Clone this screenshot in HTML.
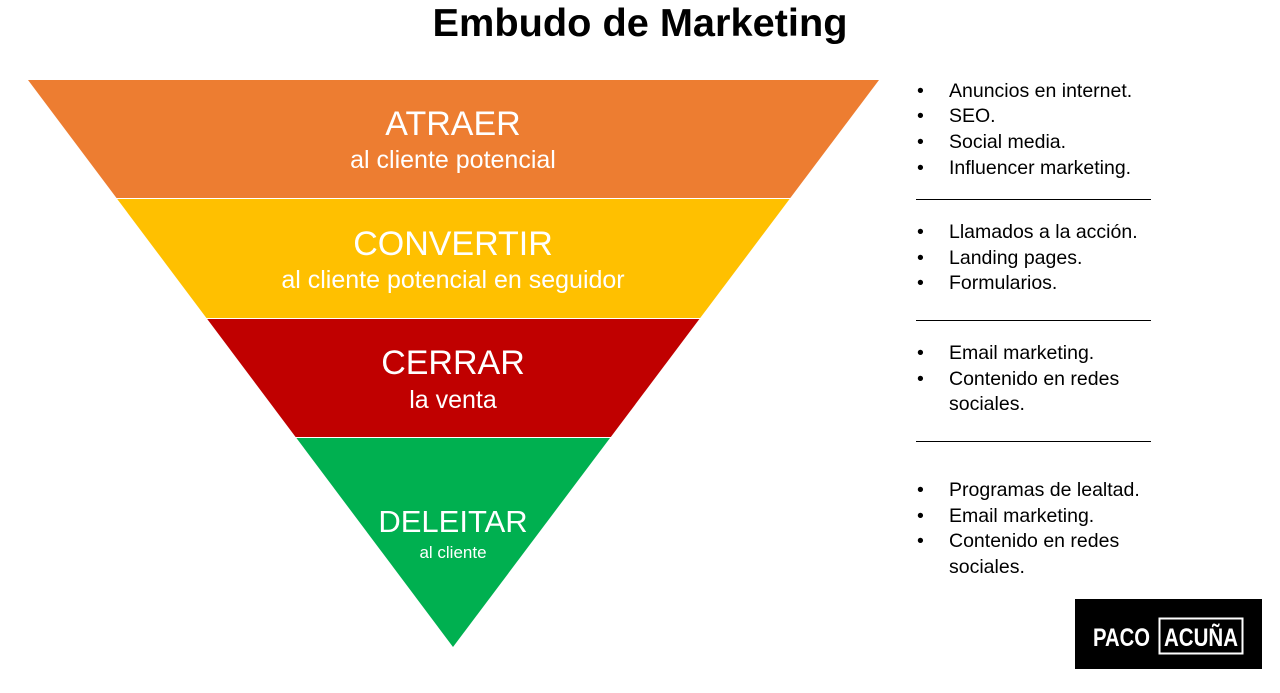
<!DOCTYPE html>
<html><head><meta charset="utf-8"><style>
body{margin:0;width:1280px;height:688px;background:#fff;overflow:hidden;font-family:"Liberation Sans",sans-serif;}
</style></head><body>
<svg width="1280" height="688" xmlns="http://www.w3.org/2000/svg" font-family="Liberation Sans, sans-serif">
<text x="640" y="36" text-anchor="middle" font-size="39" font-weight="bold" fill="#000" textLength="415" lengthAdjust="spacingAndGlyphs">Embudo de Marketing</text>
<polygon points="28,80 879,80 790.3,198 116.5,198" fill="#ED7D31"/>
<polygon points="117.2,199 789.6,199 700.2,318 206.4,318" fill="#FFC000"/>
<polygon points="207.2,319 699.4,319 610.8,437 295.6,437" fill="#C00000"/>
<polygon points="296.4,438 610,438 453,647" fill="#00B050"/>
<g fill="#fff" text-anchor="middle">
<text x="453" y="135" font-size="34">ATRAER</text>
<text x="453" y="168" font-size="25">al cliente potencial</text>
<text x="453" y="255" font-size="34">CONVERTIR</text>
<text x="453" y="288" font-size="25">al cliente potencial en seguidor</text>
<text x="453" y="374" font-size="34">CERRAR</text>
<text x="453" y="408" font-size="25">la venta</text>
<text x="453" y="532" font-size="31">DELEITAR</text>
<text x="453" y="558" font-size="17">al cliente</text>
</g>
<g font-size="19.5" fill="#000">
<text x="917" y="97">•</text><text x="949" y="97">Anuncios en internet.</text>
<text x="917" y="122">•</text><text x="949" y="122">SEO.</text>
<text x="917" y="148">•</text><text x="949" y="148">Social media.</text>
<text x="917" y="174">•</text><text x="949" y="174">Influencer marketing.</text>
<text x="917" y="238">•</text><text x="949" y="238">Llamados a la acción.</text>
<text x="917" y="264">•</text><text x="949" y="264">Landing pages.</text>
<text x="917" y="289">•</text><text x="949" y="289">Formularios.</text>
<text x="917" y="359">•</text><text x="949" y="359">Email marketing.</text>
<text x="917" y="385">•</text><text x="949" y="385">Contenido en redes</text>
<text x="949" y="410">sociales.</text>
<text x="917" y="496">•</text><text x="949" y="496">Programas de lealtad.</text>
<text x="917" y="522">•</text><text x="949" y="522">Email marketing.</text>
<text x="917" y="547">•</text><text x="949" y="547">Contenido en redes</text>
<text x="949" y="573">sociales.</text>
</g>
<g stroke="#000" stroke-width="1">
<line x1="916" y1="199.5" x2="1151" y2="199.5"/>
<line x1="916" y1="320.5" x2="1151" y2="320.5"/>
<line x1="916" y1="441.5" x2="1151" y2="441.5"/>
</g>
<rect x="1075" y="599" width="187" height="70" fill="#000"/>
<text x="1093" y="646" font-size="25" font-weight="bold" fill="#fff" textLength="57" lengthAdjust="spacingAndGlyphs">PACO</text>
<rect x="1159.5" y="618.5" width="83" height="35" fill="none" stroke="#fff" stroke-width="2"/>
<text x="1164" y="646" font-size="25" font-weight="bold" fill="#fff" textLength="74" lengthAdjust="spacingAndGlyphs">ACUÑA</text>
</svg>
</body></html>
